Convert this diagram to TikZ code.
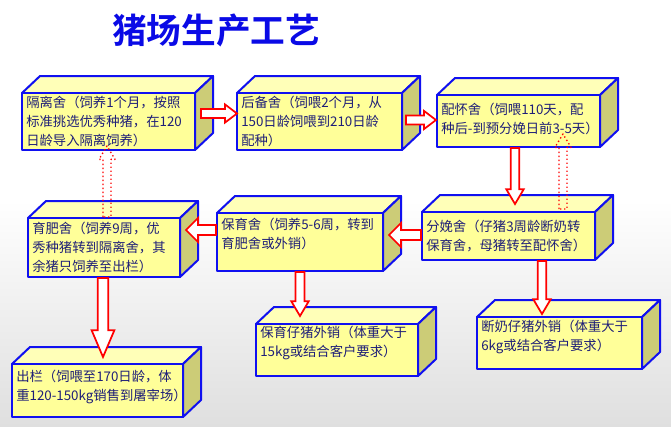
\documentclass[tikz,border=0pt]{standalone}
\usepackage{fontspec}
\setmainfont{Noto Sans CJK SC}
\newfontfamily\cjkb{Noto Sans CJK SC Bold}
\usetikzlibrary{calc}
\definecolor{frontc}{HTML}{FFFF99}
\definecolor{topc}{HTML}{FFFFB8}
\definecolor{sidec}{HTML}{CCCC77}
\definecolor{bord}{HTML}{1010F0}
\definecolor{txtc}{HTML}{1E1E78}
\definecolor{titlec}{HTML}{0A0AE6}
\tikzset{
  face/.style={draw=bord,line width=1.5pt,line join=round},
  frontbox/.style={face,fill=frontc,inner sep=0pt},
  boxtext/.style={text=txtc,align=left,inner sep=0pt,anchor=west,
    font=\fontsize{10pt}{14.2pt}\selectfont},
  solidarrow/.style={draw=red,fill=white,line width=1.3pt,line join=miter},
  dotarrow/.style={draw=red,line width=1pt,dotted,line join=round}
}
% #1 name, #2-#5 x1 y1 x2 y2, #6 text, #7 text vertical shift
\newcommand\cub[7]{%
  \filldraw[face,fill=topc] (#2,#3) -- (#2+18,#3-17) -- (#4+18,#3-17) -- (#4,#3) -- cycle;
  \filldraw[face,fill=sidec] (#4,#3) -- (#4+18,#3-17) -- (#4+18,#5-17) -- (#4,#5) -- cycle;
  \pgfmathsetmacro\cw{(#4-#2)*0.75}\pgfmathsetmacro\ch{(#5-#3)*0.75}%
  \node[frontbox,minimum width=\cw pt,minimum height=\ch pt] (#1) at ({(#2+#4)/2},{(#3+#5)/2}) {};
  \node[boxtext] (#1t) at ($(#1.west)+(5,#7)$) {#6};}
\newcommand\barrow[6][solidarrow]{%
  \coordinate (ba) at #2; \coordinate (bb) at #3;
  \coordinate (bt) at ($(bb)!#6!(ba)$);
  \draw[#1] ($(ba)!#4!90:(bb)$) -- ($(bt)!#4!90:(bb)$) -- ($(bt)!#5!90:(bb)$) -- (bb)
    -- ($(bt)!#5!-90:(bb)$) -- ($(bt)!#4!-90:(bb)$) -- ($(ba)!#4!-90:(bb)$) -- cycle;}
\begin{document}
\begin{tikzpicture}[x=0.75pt,y=-0.75pt]
\useasboundingbox (0,0) rectangle (671,426);
\fill[white] (0,0) rectangle (671,200);
\shade[top color=white,bottom color=gray!25] (0,200) rectangle (671,426);
\node[font=\cjkb\fontsize{26pt}{30pt}\selectfont,text=titlec] (title) at (216,30) {猪场生产工艺};
\cub{b1}{22}{93}{195}{150}{隔离舍（饲养1个月，按照\\标准挑选优秀种猪，在120\\日龄导入隔离饲养）}{0}
\cub{b2}{237}{93}{402}{150}{后备舍（饲喂2个月，从\\150日龄饲喂到210日龄\\配种）}{0}
\cub{b3}{437}{95}{600}{147}{配怀舍（饲喂110天，配\\种后-到预分娩日前3-5天）}{-2}
\cub{b4}{422}{212}{595}{260}{分娩舍（仔猪3周龄断奶转\\保育舍，母猪转至配怀舍）}{0}
\cub{b5}{217}{213}{383}{271}{保育舍（饲养5-6周，转到\\育肥舍或外销）}{-8}
\cub{b6}{28}{218}{180}{277}{育肥舍（饲养9周，优\\秀种猪转到隔离舍，其\\余猪只饲养至出栏）}{0}
\cub{b7}{256}{324}{418}{376}{保育仔猪外销（体重大于\\15kg或结合客户要求）}{-7}
\cub{b8}{477}{317}{642}{369}{断奶仔猪外销（体重大于\\6kg或结合客户要求）}{-6}
\cub{b9}{12}{364}{183}{417}{出栏（饲喂至170日龄，体\\重120-150kg销售到屠宰场）}{-4}
% solid block arrows
\barrow{($(b1.east)+(5,-8)$)}{($(b2.west)+(1,-8)$)}{3.4pt}{6.8pt}{9pt}
\barrow{($(b2.east)+(3,-1.5)$)}{($(b3.west)+(0,-1)$)}{3.4pt}{6.8pt}{9pt}
\barrow{(515,0 |- b3.south)}{($(515,0 |- b4.north)+(0,-7)$)}{3.2pt}{6.5pt}{11pt}
\barrow{($(b4.west)+(0,-1)$)}{($(b5.east)+(5,-7)$)}{3.8pt}{9pt}{9pt}
\barrow{($(b5.west)+(0,-12)$)}{($(b6.east)+(5,-17.5)$)}{3.8pt}{9pt}{9pt}
\barrow{(300,0 |- b5.south)}{($(300,0 |- b7.north)+(0,-7)$)}{3.4pt}{6.5pt}{11pt}
\barrow{(103,0 |- b6.south)}{($(103,0 |- b9.north)+(0,-6)$)}{4pt}{8.5pt}{20pt}
\barrow{(542,0 |- b4.south)}{($(542,0 |- b8.north)+(0,-2)$)}{3.2pt}{6.5pt}{11pt}
% dotted arrows
\barrow[dotarrow]{(107,0 |- b6.north)}{($(107,0 |- b1.south)+(0,-5)$)}{3pt}{6pt}{10pt}
\barrow[dotarrow]{($(563,0 |- b4.north)+(0,-2)$)}{($(563,0 |- b3.south)+(0,-14)$)}{3pt}{6pt}{10pt}
\end{tikzpicture}
\end{document}
